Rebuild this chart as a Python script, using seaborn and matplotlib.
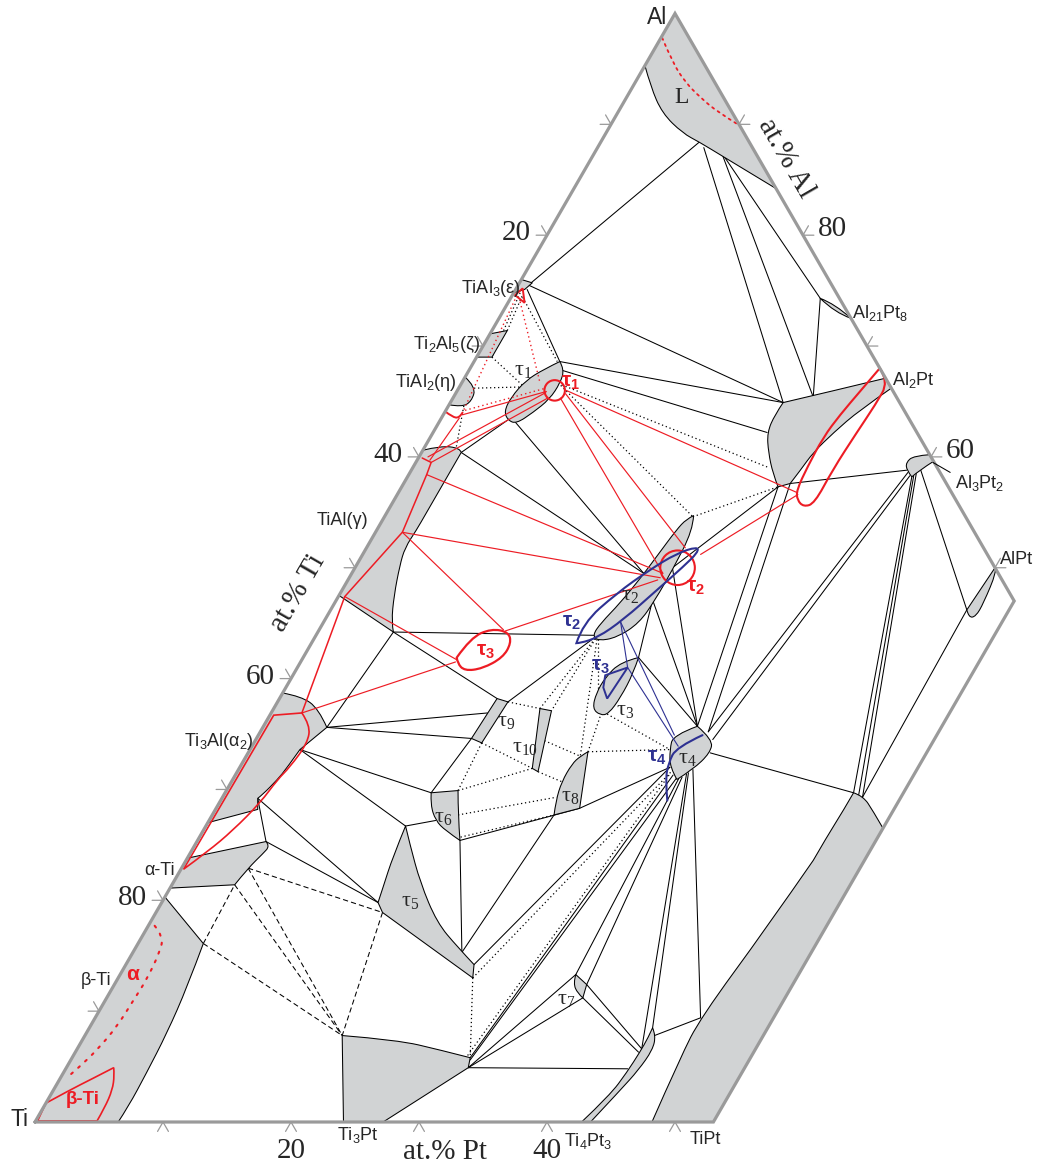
import numpy as np
import pandas as pd
import matplotlib
matplotlib.use("Agg")
import matplotlib.pyplot as plt
from matplotlib.patches import Circle, PathPatch
from matplotlib.path import Path
import seaborn as sns

# ------------------------------------------------------------------
# Ti-Al-Pt isothermal section; every point is (at.% Pt, at.% Al)
# ------------------------------------------------------------------
FRAME = [(0, 0), (0, 100), (53, 47), (53, 0)]

TI_TICKS = [10, 20, 30, 40, 50, 60, 70, 80, 90]
TI_LABELS = [20, 40, 60, 80]
AL_TICKS = [50, 60, 70, 80, 90]
AL_LABELS = [60, 80]
PT_TICKS = [10, 20, 30, 40, 50]
PT_LABELS = [20, 40]

# single-phase fields: (outline, indices of sharp corners)
LIQ = [(0, 100), (15.8, 84.2), (10.2, 87.1), (7.7, 88.4), (6.0, 89.2),
       (3.5, 91.0), (1.4, 93.4), (0, 95.3)]
LIQ_CORNERS = [0, 1, 7]
TIAL3 = [(0, 76.0), (1.0, 75.7), (0.7, 75.1), (0, 74.8)]
TI2AL5 = [(0, 69.0), (1.2, 69.0), (1.2, 71.4), (0, 71.1)]
TIAL2 = [(0, 67.2), (1.3, 66.3), (1.6, 65.0), (1.1, 64.5), (0, 64.7)]
TIAL2_CORNERS = [0, 4]
GAMMA = [(0, 47.5), (0, 60.6), (1.2, 61.0), (2.8, 60.8), (3.1, 60.4),
         (3.1, 58.6), (3.1, 56.8), (3.1, 54.8), (3.1, 53.4), (3.0, 51.8),
         (3.4, 50.2), (4.3, 47.5), (5.3, 45.1), (5.9, 44.2)]
GAMMA_CORNERS = [0, 1, 4, 13]
ALPHA2 = [(0, 38.7), (1.6, 38.4), (3.5, 37.3), (5.0, 35.6), (3.9, 33.6),
          (3.7, 31.9), (3.5, 30.9), (3.0, 29.5), (2.8, 29.2), (3.3, 28.2),
          (0, 27.0)]
ALPHA2_CORNERS = [0, 3, 4, 8, 9, 10]
ALPHA_TI = [(0, 23.8), (5.4, 25.3), (5.9, 24.9), (5.7, 24.2), (5.2, 22.9),
            (4.9, 21.4), (0, 21.1)]
ALPHA_TI_CORNERS = [0, 1, 5, 6]
BETA_TI = [(0, 0), (0, 20.3), (5.1, 16.1), (5.8, 12.2), (6.3, 8.0),
           (6.5, 4.4), (6.6, 1.4), (6.5, 0)]
BETA_TI_CORNERS = [0, 1, 2, 7]
TI3PT = [(20.1, 7.8), (24.6, 7.4), (28.4, 6.5), (31.1, 5.8), (31.4, 4.9),
         (27.2, 0), (24.1, 0)]
TI3PT_CORNERS = [0, 3, 4, 5, 6]
TI4PT3 = [(42.7, 0), (43.7, 2.4), (44.0, 4.5), (44.1, 6.3), (44.1, 7.6),
          (44.0, 8.5), (44.6, 7.8), (45.0, 6.5), (44.8, 4.7), (44.3, 2.9),
          (43.4, 0)]
TI4PT3_CORNERS = [0, 5, 10]
TIPT = [(48.2, 0), (53, 0), (53, 26.5), (51.4, 28.1), (50.0, 29.4),
        (49.1, 29.7), (49.1, 28.1), (49.0, 25.7), (49.0, 23.6), (48.4, 17.6),
        (47.3, 9.4), (47.5, 5.9)]
TIPT_CORNERS = [0, 1, 2, 5, 8]
AL21PT8 = [(24.2, 74.3), (25.6, 73.8), (27.5, 72.5), (26.0, 73.0)]
AL21PT8_CORNERS = [0, 2]
AL2PT = [(26.0, 64.9), (29.2, 65.9), (32.9, 67.1), (33.8, 66.2), (32.3, 64.2),
         (31.3, 62.2), (30.6, 60.4), (30.4, 58.8), (30.2, 57.6), (29.4, 57.3),
         (28.4, 58.5), (27.1, 60.4), (26.1, 62.2), (25.9, 63.8)]
AL2PT_CORNERS = [0, 2, 3, 8, 9]
AL3PT2 = [(38.3, 59.5), (38.6, 60.1), (39.8, 60.2), (40.4, 59.6), (39.7, 58.8),
          (39.4, 58.2), (38.7, 58.8)]
AL3PT2_CORNERS = [2, 3, 5]
ALPT = [(50.0, 50.0), (49.7, 46.2), (50.2, 45.5), (50.7, 45.6), (50.7, 46.8),
        (50.3, 49.7)]
ALPT_CORNERS = [0, 1]
TAU1 = [(6.7, 68.6), (5.8, 67.9), (4.9, 66.9), (4.5, 65.4), (4.6, 64.1),
        (5.3, 63.3), (6.1, 63.0), (6.9, 64.0), (7.6, 65.2), (7.7, 66.7),
        (7.4, 67.9)]
TAU1_CORNERS = [0]
TAU2 = [(24.1, 54.7), (24.7, 53.4), (24.9, 49.8), (24.9, 47.1), (24.7, 45.0),
        (23.6, 43.7), (22.3, 43.4), (21.6, 43.9), (21.7, 45.0), (22.3, 46.8),
        (22.8, 49.2), (23.1, 51.3), (23.4, 53.4), (23.7, 54.4)]
TAU2_CORNERS = [0]
TAU3 = [(26.2, 41.9), (25.0, 41.5), (24.5, 40.1), (24.5, 38.7), (24.9, 37.3),
        (25.8, 36.7), (26.4, 36.8), (26.6, 38.3), (26.5, 40.5)]
TAU3_CORNERS = [0]
TAU4 = [(32.4, 34.9), (33.9, 35.7), (35.7, 34.5), (36.1, 33.3), (35.5, 31.8),
        (34.7, 30.9), (33.6, 32.0), (32.8, 33.6)]
TAU4_CORNERS = [1, 5]
TAU5 = [(15.6, 26.7), (16.0, 23.9), (16.6, 21.2), (16.9, 19.8), (17.7, 18.9),
        (27.7, 13.0), (27.2, 14.2), (25.1, 15.8), (22.4, 18.0), (19.3, 21.6),
        (16.8, 25.0)]
TAU5_CORNERS = [0, 3, 4, 5, 6]
TAU6 = [(16.1, 29.7), (18.1, 29.9), (19.2, 27.7), (20.5, 25.4), (18.9, 26.3),
        (17.7, 27.2), (16.6, 28.6)]
TAU6_CORNERS = [0, 1, 3]
TAU7 = [(35.6, 13.3), (36.9, 12.4), (37.2, 11.2), (36.6, 11.6), (35.8, 12.5)]
TAU7_CORNERS = [0, 1, 2]
TAU8 = [(26.5, 33.4), (28.4, 28.3), (26.7, 27.7), (26.2, 29.0), (25.8, 30.7),
        (25.8, 32.3), (26.1, 33.0)]
TAU8_CORNERS = [0, 1, 2]
TAU9 = [(17.0, 38.2), (18.0, 37.9), (17.8, 34.2), (16.8, 34.6)]
TAU10 = [(20.8, 37.3), (21.8, 37.1), (23.5, 31.6), (22.9, 31.9)]

# solid tie lines
TIES_AL_RICH = [
    ((7.7, 88.4), (0.8, 75.5)), ((8.3, 87.9), (26.0, 64.9)),
    ((10.2, 87.1), (28.1, 65.4)), ((10.4, 87.0), (24.2, 74.3)),
    ((24.2, 74.3), (28.1, 65.4)), ((0.8, 75.5), (26.0, 64.9)),
    ((0.9, 75.1), (6.7, 68.6)), ((6.7, 68.6), (26.0, 64.9)),
    ((7.3, 67.8), (26.1, 62.2)),
]
TIES_CENTRE = [
    ((3.1, 60.4), (5.4, 63.5)), ((6.0, 63.1), (22.8, 49.5)),
    ((3.1, 60.4), (22.8, 49.5)), ((5.9, 44.2), (22.0, 43.9)),
    ((5.9, 44.2), (5.0, 35.6)), ((5.9, 44.2), (17.0, 38.2)),
    ((5.0, 35.6), (16.9, 36.9)), ((5.0, 35.6), (16.8, 34.6)),
    ((16.8, 34.6), (16.1, 29.7)), ((3.9, 33.6), (16.1, 29.7)),
    ((3.9, 33.6), (15.6, 26.7)), ((15.6, 26.7), (17.7, 27.2)),
    ((2.8, 29.2), (16.9, 19.8)), ((5.4, 25.3), (16.9, 19.8)),
    ((2.8, 29.2), (5.4, 25.3)), ((22.0, 43.9), (18.0, 37.9)),
    ((20.5, 25.4), (25.7, 15.3)), ((20.5, 25.4), (28.4, 28.3)),
    ((25.7, 15.3), (26.7, 27.7)),
]
TIES_TI_RICH = [
    ((27.2, 14.2), (33.6, 32.0)), ((31.1, 5.8), (34.2, 31.3)),
    ((31.2, 5.6), (34.6, 31.0)), ((31.4, 4.9), (35.6, 13.3)),
    ((31.4, 4.9), (37.2, 11.2)), ((31.4, 4.9), (43.9, 4.8)),
    ((35.6, 13.3), (34.8, 31.0)), ((36.9, 12.4), (35.0, 31.1)),
    ((37.2, 11.2), (44.0, 6.3)), ((36.9, 12.4), (44.1, 6.6)),
    ((44.1, 6.6), (35.2, 31.4)), ((44.0, 8.5), (35.3, 31.5)),
    ((44.5, 7.8), (47.3, 9.4)), ((47.3, 9.4), (35.5, 31.8)),
    ((28.4, 28.3), (33.6, 32.0)), ((36.1, 33.3), (49.1, 29.7)),
]
TIES_PT_RICH = [
    ((24.7, 47.1), (26.2, 41.9)), ((24.7, 47.1), (33.9, 35.7)),
    ((26.2, 41.9), (33.9, 35.7)), ((24.8, 50.0), (33.9, 35.7)),
    ((24.8, 50.0), (29.4, 57.3)), ((29.4, 57.3), (33.9, 35.7)),
    ((30.2, 57.6), (35.0, 35.2)), ((30.2, 57.6), (38.7, 58.8)),
    ((35.0, 35.2), (38.9, 58.6)), ((35.7, 34.5), (39.2, 58.3)),
    ((39.4, 58.2), (49.1, 29.7)), ((39.5, 58.3), (49.6, 29.5)),
    ((39.6, 58.5), (50.0, 29.3)), ((39.8, 58.8), (49.7, 46.2)),
    ((49.7, 46.2), (50.0, 29.3)),
]
DOTTED = [
    ((0.5, 74.8), (1.2, 69.0)), ((0.9, 74.4), (6.5, 68.6)),
    ((1.2, 69.0), (4.8, 66.5)), ((1.2, 66.2), (4.7, 66.3)),
    ((1.2, 64.6), (2.5, 60.8)), ((1.2, 71.4), (0.8, 74.5)),
    ((7.9, 66.5), (27.9, 59.0)), ((7.5, 66.7), (24.1, 54.6)),
    ((24.1, 54.6), (29.4, 57.3)),
    ((22.0, 43.9), (20.8, 37.3)), ((22.0, 43.9), (21.8, 37.1)),
    ((22.0, 43.9), (24.6, 38.7)), ((22.0, 43.9), (26.1, 33.0)),
    ((18.0, 37.9), (20.8, 37.3)), ((17.8, 34.2), (22.9, 31.9)),
    ((17.8, 34.2), (18.1, 29.9)), ((22.9, 31.9), (18.1, 29.9)),
    ((23.5, 31.6), (25.8, 30.7)), ((22.6, 34.4), (26.1, 33.0)),
    ((25.8, 36.9), (26.5, 33.4)), ((26.3, 36.8), (32.8, 33.6)),
    ((26.5, 33.4), (32.8, 33.6)), ((19.2, 27.7), (26.1, 29.3)),
    ((20.4, 25.7), (26.7, 27.7)),
    ((27.7, 13.0), (31.1, 5.8)), ((27.7, 13.0), (33.9, 31.6)),
    ((30.8, 6.0), (33.9, 31.4)),
]
DASHED = [
    ((5.1, 16.1), (4.9, 21.4)), ((5.1, 16.1), (20.1, 7.8)),
    ((4.9, 21.4), (20.1, 7.8)), ((5.2, 22.9), (20.1, 7.8)),
    ((5.2, 22.9), (17.7, 18.9)), ((17.7, 18.9), (20.1, 7.8)),
]

# second isotherm (red)
RED_LIQ = [(0.1, 97.8), (2.0, 95.6), (3.9, 93.8), (5.8, 92.4), (7.8, 91.1),
           (9.9, 90.0)]
RED_TIAL3 = [(0.2, 74.6), (0.5, 75.2), (1.3, 73.9)]
RED_TIAL2 = [(0, 64.1), (0.8, 63.6), (1.4, 63.5), (1.4, 64.0)]
RED_GAMMA = [(0.3, 59.9), (1.2, 59.5), (1.4, 58.4), (2.1, 53.2), (0.5, 47.4),
             (2.4, 36.9)]
RED_ALPHA2 = [(0.3, 36.7), (2.4, 36.9), (3.6, 35.8), (4.2, 34.2), (3.9, 32.0),
              (3.5, 30.9), (3.2, 28.8), (2.3, 26.3), (1.3, 24.4), (0.2, 22.8)]
RED_ALPHA2_CORNERS = [0, 1, 9]
RED_ALPHA = [(0.5, 17.7), (1.7, 16.7), (2.1, 15.2), (2.3, 12.8), (2.2, 11.0),
             (2.1, 8.6), (1.6, 6.5), (1.0, 5.0), (0.5, 4.0)]
RED_BETA = [(0, 1.7), (1.3, 2.9), (2.4, 3.8), (3.7, 4.9), (4.1, 4.2),
            (4.6, 2.9), (4.8, 1.3), (4.8, 0.1), (0.15, 0.1)]
RED_BETA_CORNERS = [0, 3, 7, 8]
RED_AL2PT = [(32.0, 68.0), (31.5, 65.9), (31.0, 63.8), (30.7, 61.8),
             (30.8, 59.1), (31.0, 57.0), (31.5, 56.1), (32.3, 55.5),
             (33.0, 55.8), (32.9, 58.8), (33.1, 62.2), (33.3, 64.7),
             (33.3, 66.8)]
RED_AL2PT_CORNERS = [0]
RED_TAU3 = [(12.0, 41.9), (12.2, 43.7), (13.4, 44.5), (14.9, 44.2),
            (15.6, 43.2), (15.6, 41.9), (14.5, 40.9), (13.2, 40.7),
            (12.3, 41.4)]
RED_TAU3_CORNERS = [0]
RED_TAU1_CENTRE, RED_TAU1_RADIUS = (7.6, 66.0), 0.8
RED_TAU2_CENTRE, RED_TAU2_RADIUS = (25.2, 50.0), 1.35
RED_TIES = [
    ((7.0, 65.8), (0.7, 60.0)), ((7.4, 65.3), (1.2, 59.5)),
    ((1.4, 63.5), (1.0, 59.7)), ((7.0, 65.9), (1.5, 63.8)),
    ((8.4, 65.3), (24.3, 49.5)), ((8.6, 65.7), (24.9, 51.8)),
    ((8.5, 66.0), (31.1, 56.8)), ((1.4, 58.4), (24.3, 49.5)),
    ((2.1, 53.2), (24.3, 49.1)), ((2.1, 53.2), (14.4, 44.4)),
    ((14.6, 44.3), (24.2, 48.9)), ((0.5, 47.4), (12.1, 41.7)),
    ((12.1, 41.5), (2.4, 36.9)), ((26.4, 51.2), (31.3, 56.6)),
]
RED_DOTTED = [
    ((0.9, 74.0), (6.1, 66.7)), ((0.4, 74.2), (1.4, 64.0)),
    ((1.5, 64.2), (6.8, 66.2)),
]

# third isotherm (blue)
BLUE_TAU2 = [(20.7, 43.2), (20.3, 45.0), (21.6, 47.7), (23.1, 49.8),
             (24.5, 51.3), (25.8, 51.9), (26.1, 51.4), (25.6, 50.1),
             (24.6, 48.0), (23.3, 45.3), (22.1, 43.7), (21.0, 43.2)]
BLUE_TAU2_CORNERS = [0]
BLUE_TAU3 = [(24.4, 40.3), (25.8, 41.0), (25.6, 38.2), (24.8, 39.2)]
BLUE_TAU4 = [(34.7, 34.9), (33.2, 33.8), (33.3, 32.4), (33.8, 30.9),
             (34.9, 29.0)]
BLUE_TIES = [((23.2, 45.1), (25.8, 41.0)), ((23.2, 45.1), (32.5, 34.9)),
             ((25.8, 41.0), (33.3, 33.9))]

# ------------------------------------------------------------------
GRAY = "#d1d3d4"
EDGE = "#9a9a9a"
RED = "#ed1c24"
BLUE = "#2e3192"
SERIF = ["Liberation Serif", "DejaVu Serif"]
SANS = ["Liberation Sans", "DejaVu Sans"]
S3 = np.sqrt(3) / 2


def tern(pt, al):
    pt = np.asarray(pt, dtype=float)
    al = np.asarray(al, dtype=float)
    return pt + 0.5 * al, al * S3


def outline_path(pts, corners=None, closed=True):
    """Outline through the vertices; runs between sharp corners are drawn
    as quadratic Bezier pieces so rounded boundaries stay rounded."""
    pts = np.asarray(pts, dtype=float)
    P = np.column_stack(tern(pts[:, 0], pts[:, 1]))
    n = len(P)
    if corners is None:
        corners = list(range(n))
    if closed and len(corners) == 0:
        mids = (P + np.roll(P, -1, axis=0)) / 2
        verts, codes = [mids[-1]], [Path.MOVETO]
        for i in range(n):
            verts += [P[i], mids[i]]
            codes += [Path.CURVE3, Path.CURVE3]
        verts.append(mids[-1])
        codes.append(Path.CLOSEPOLY)
        return Path(verts, codes)
    if closed:
        c0 = corners[0]
        order = list(range(c0, n)) + list(range(0, c0)) + [c0]
        cset = set(corners)
    else:
        order = list(range(n))
        cset = set(corners) | {0, n - 1}
    Q = P[order]
    sharp = [k in cset for k in order]
    sharp[0] = sharp[-1] = True
    verts, codes = [Q[0]], [Path.MOVETO]
    i = 0
    while i < len(Q) - 1:
        j = i + 1
        while not sharp[j]:
            j += 1
        inner = Q[i + 1:j]
        if len(inner) == 0:
            verts.append(Q[j])
            codes.append(Path.LINETO)
        else:
            for k in range(len(inner)):
                end = (inner[k] + inner[k + 1]) / 2 if k < len(inner) - 1 else Q[j]
                verts += [inner[k], end]
                codes += [Path.CURVE3, Path.CURVE3]
        i = j
    if closed:
        verts.append(Q[0])
        codes.append(Path.CLOSEPOLY)
    return Path(verts, codes)


def seg_table(segs):
    rows = []
    for i, (a, b) in enumerate(segs):
        for p in (a, b):
            x, y = tern(*p)
            rows.append((i, float(x), float(y)))
    return pd.DataFrame(rows, columns=["seg", "x", "y"])


def draw_segments(ax, segs, **kw):
    sns.lineplot(data=seg_table(segs), x="x", y="y", units="seg",
                 estimator=None, sort=False, legend=False, ax=ax, **kw)


def fill_phase(ax, pts, corners=None):
    ax.add_patch(PathPatch(outline_path(pts, corners), facecolor=GRAY,
                           edgecolor="black", linewidth=0.75,
                           joinstyle="round", zorder=3))


def draw_outline(ax, pts, corners=None, closed=True, **kw):
    ax.add_patch(PathPatch(outline_path(pts, corners, closed), fill=False,
                           capstyle="round", **kw))


def put(ax, pos, s, **kw):
    x, y = tern(*pos)
    ax.text(float(x), float(y), s, **kw)


sns.set_theme(style="white")
plt.rcParams["font.family"] = SANS

fig = plt.figure(figsize=(10.43, 11.72), dpi=100)
ax = fig.add_axes([0, 0, 1, 1])
ax.set_xlim(-2.734, 78.75)
ax.set_ylim(-3.906, 87.656)
ax.set_axis_off()

# tie lines and phase-field boundaries
for group in (TIES_AL_RICH, TIES_CENTRE, TIES_TI_RICH, TIES_PT_RICH):
    draw_segments(ax, group, color="black", linewidth=0.75, zorder=2)
draw_segments(ax, DOTTED, color="black", linewidth=0.9,
              linestyle=(0, (1.0, 2.2)), zorder=2)
draw_segments(ax, DASHED, color="black", linewidth=0.75,
              linestyle=(0, (5, 3)), zorder=2)

# single-phase fields
for phase, corners in (
        (LIQ, LIQ_CORNERS), (TIAL3, None), (TI2AL5, None),
        (TIAL2, TIAL2_CORNERS), (GAMMA, GAMMA_CORNERS),
        (ALPHA2, ALPHA2_CORNERS), (ALPHA_TI, ALPHA_TI_CORNERS),
        (BETA_TI, BETA_TI_CORNERS), (TI3PT, TI3PT_CORNERS),
        (TI4PT3, TI4PT3_CORNERS), (TIPT, TIPT_CORNERS),
        (AL21PT8, AL21PT8_CORNERS), (AL2PT, AL2PT_CORNERS),
        (AL3PT2, AL3PT2_CORNERS), (ALPT, ALPT_CORNERS),
        (TAU1, TAU1_CORNERS), (TAU2, TAU2_CORNERS), (TAU3, TAU3_CORNERS),
        (TAU4, TAU4_CORNERS), (TAU5, TAU5_CORNERS), (TAU6, TAU6_CORNERS),
        (TAU7, TAU7_CORNERS), (TAU8, TAU8_CORNERS), (TAU9, None),
        (TAU10, None)):
    fill_phase(ax, phase, corners)

# red isotherm
draw_segments(ax, RED_TIES, color=RED, linewidth=0.85, zorder=4)
draw_segments(ax, RED_DOTTED, color=RED, linewidth=1.0,
              linestyle=(0, (1.0, 2.2)), zorder=4)
draw_outline(ax, RED_LIQ, [], closed=False, edgecolor=RED, lw=1.3,
             ls=(0, (1.2, 2.5)), zorder=4)
draw_outline(ax, RED_ALPHA, [], closed=False, edgecolor=RED, lw=1.5,
             ls=(0, (1.0, 3.5)), zorder=4)
draw_outline(ax, RED_TIAL3, None, edgecolor=RED, lw=1.4, zorder=4)
draw_outline(ax, RED_TIAL2, [], closed=False, edgecolor=RED, lw=1.4, zorder=4)
draw_outline(ax, RED_GAMMA, None, closed=False, edgecolor=RED, lw=1.1, zorder=4)
draw_outline(ax, RED_ALPHA2, RED_ALPHA2_CORNERS, edgecolor=RED, lw=1.2, zorder=4)
draw_outline(ax, RED_BETA, RED_BETA_CORNERS, edgecolor=RED, lw=1.2, zorder=4)
draw_outline(ax, RED_AL2PT, RED_AL2PT_CORNERS, edgecolor=RED, lw=1.5, zorder=4)
draw_outline(ax, RED_TAU3, RED_TAU3_CORNERS, edgecolor=RED, lw=1.6, zorder=4)
for centre, radius in ((RED_TAU1_CENTRE, RED_TAU1_RADIUS),
                       (RED_TAU2_CENTRE, RED_TAU2_RADIUS)):
    cx, cy = tern(*centre)
    ax.add_patch(Circle((float(cx), float(cy)), radius, fill=False,
                        edgecolor=RED, linewidth=1.5, zorder=4))

# blue isotherm
draw_segments(ax, BLUE_TIES, color=BLUE, linewidth=0.8, zorder=4)
draw_outline(ax, BLUE_TAU2, BLUE_TAU2_CORNERS, edgecolor=BLUE, lw=1.5, zorder=4)
draw_outline(ax, BLUE_TAU3, None, edgecolor=BLUE, lw=1.4, zorder=4)
draw_outline(ax, BLUE_TAU4, [], closed=False, edgecolor=BLUE, lw=1.5, zorder=4)

# outline of the section
fx, fy = tern(*np.array(FRAME + FRAME[:1], dtype=float).T)
ax.plot(fx, fy, color=EDGE, lw=2.3, zorder=5, solid_joinstyle="miter")

# chevron ticks
L = 0.85
for t in TI_TICKS:
    x0, y0 = tern(0, 100 - t)
    ax.plot([x0 - L, x0, x0 - L / 2], [y0, y0, y0 + L * S3],
            color=EDGE, lw=0.9, zorder=5)
for a in AL_TICKS:
    x0, y0 = tern(100 - a, a)
    ax.plot([x0 + L, x0, x0 + L / 2], [y0, y0, y0 + L * S3],
            color=EDGE, lw=0.9, zorder=5)
for p in PT_TICKS:
    x0, y0 = tern(p, 0)
    ax.plot([x0 - L / 2, x0, x0 + L / 2], [y0 - L * S3, y0, y0 - L * S3],
            color=EDGE, lw=0.9, zorder=5)

num_kw = dict(family=SERIF, fontsize=21, textcoords="offset pixels",
              va="center", zorder=6)
for t in TI_LABELS:
    ax.annotate(str(t), tern(0, 100 - t), xytext=(-16, 2), ha="right", **num_kw)
for a in AL_LABELS:
    ax.annotate(str(a), tern(100 - a, a), xytext=(15, 6), ha="left", **num_kw)
for p in PT_LABELS:
    ax.annotate(str(p), tern(p, 0), xytext=(0, -29), ha="center", **num_kw)

put(ax, (-3.3, 47.7), "at.% Ti", family=SERIF, fontsize=21, rotation=60,
    ha="center", va="center", rotation_mode="anchor")
put(ax, (15.2, 86.9), "at.% Al", family=SERIF, fontsize=21, rotation=-60,
    ha="center", va="center", rotation_mode="anchor")
put(ax, (33.4, -2.7), "at.% Pt", family=SERIF, fontsize=21,
    ha="center", va="center")

# corner and phase names
corner_kw = dict(family=SANS, fontsize=16.5, va="center", zorder=6)
put(ax, (-1.2, 99.6), "Al", ha="center", **corner_kw)
put(ax, (-1.3, 0.2), "Ti", ha="center", **corner_kw)

ph = dict(family=SANS, fontsize=13, va="center", zorder=6)
put(ax, (0.3, 75.2), r"TiAl$_\mathregular{3}$(ε)", ha="right", **ph)
put(ax, (-0.3, 70.1), r"Ti$_\mathregular{2}$Al$_\mathregular{5}$(ζ)", ha="right", **ph)
put(ax, (-0.4, 66.7), r"TiAl$_\mathregular{2}$(η)", ha="right", **ph)
put(ax, (-1.1, 54.3), "TiAl(γ)", ha="right", **ph)
put(ax, (-0.1, 34.3), r"Ti$_\mathregular{3}$Al(α$_\mathregular{2}$)", ha="right", **ph)
put(ax, (-0.4, 22.7), "α-Ti", ha="right", **ph)
put(ax, (-0.4, 12.8), "β-Ti", ha="right", **ph)
put(ax, (25.8, -1.2), r"Ti$_\mathregular{3}$Pt", ha="center", **ph)
put(ax, (44.1, -1.7), r"Ti$_\mathregular{4}$Pt$_\mathregular{3}$", ha="center", **ph)
put(ax, (53.2, -1.6), "TiPt", ha="center", **ph)
put(ax, (27.3, 73.0), r"Al$_\mathregular{21}$Pt$_\mathregular{8}$", ha="left", **ph)
put(ax, (33.5, 66.9), r"Al$_\mathregular{2}$Pt", ha="left", **ph)
put(ax, (43.1, 57.6), r"Al$_\mathregular{3}$Pt$_\mathregular{2}$", ha="left", **ph)
put(ax, (50.0, 50.7), "AlPt", ha="left", **ph)
lx, ly = tern([40.4, 42.2], [59.5, 58.6])
ax.plot(lx, ly, color="black", lw=0.75, zorder=6)
put(ax, (4.3, 92.4), "L", family=SERIF, fontsize=17, ha="center",
    va="center", zorder=6)

tau = dict(family=SERIF, fontsize=16, ha="center", va="center", zorder=6)
for pos, n in (((4.3, 67.7), 1), ((22.8, 47.4), 2), ((27.6, 37.0), 3),
               ((34.6, 32.7), 4), ((19.4, 19.8), 5), ((18.2, 27.4), 6),
               ((36.0, 11.0), 7), ((27.2, 29.3), 8), ((18.8, 36.0), 9),
               ((21.4, 33.7), 10)):
    put(ax, pos, "τ$_\\mathregular{%d}$" % n, **tau)

red_kw = dict(family=SANS, fontsize=15, fontweight="bold", color=RED,
              ha="center", va="center", zorder=6)
for pos, n in (((8.5, 66.7), 1), ((27.5, 48.2), 2), ((14.0, 42.4), 3)):
    put(ax, pos, "τ$_\\mathregular{%d}$" % n, **red_kw)
put(ax, (1.0, 13.3), "α", **red_kw)
put(ax, (2.7, 2.0), "β-Ti", **{**red_kw, "fontsize": 13.5})

blue_kw = dict(red_kw, color=BLUE)
for pos, n in (((19.4, 45.1), 2), ((23.6, 41.1), 3), ((32.1, 32.9), 4)):
    put(ax, pos, "τ$_\\mathregular{%d}$" % n, **blue_kw)

fig.savefig("out.png", dpi=100, facecolor="white")
